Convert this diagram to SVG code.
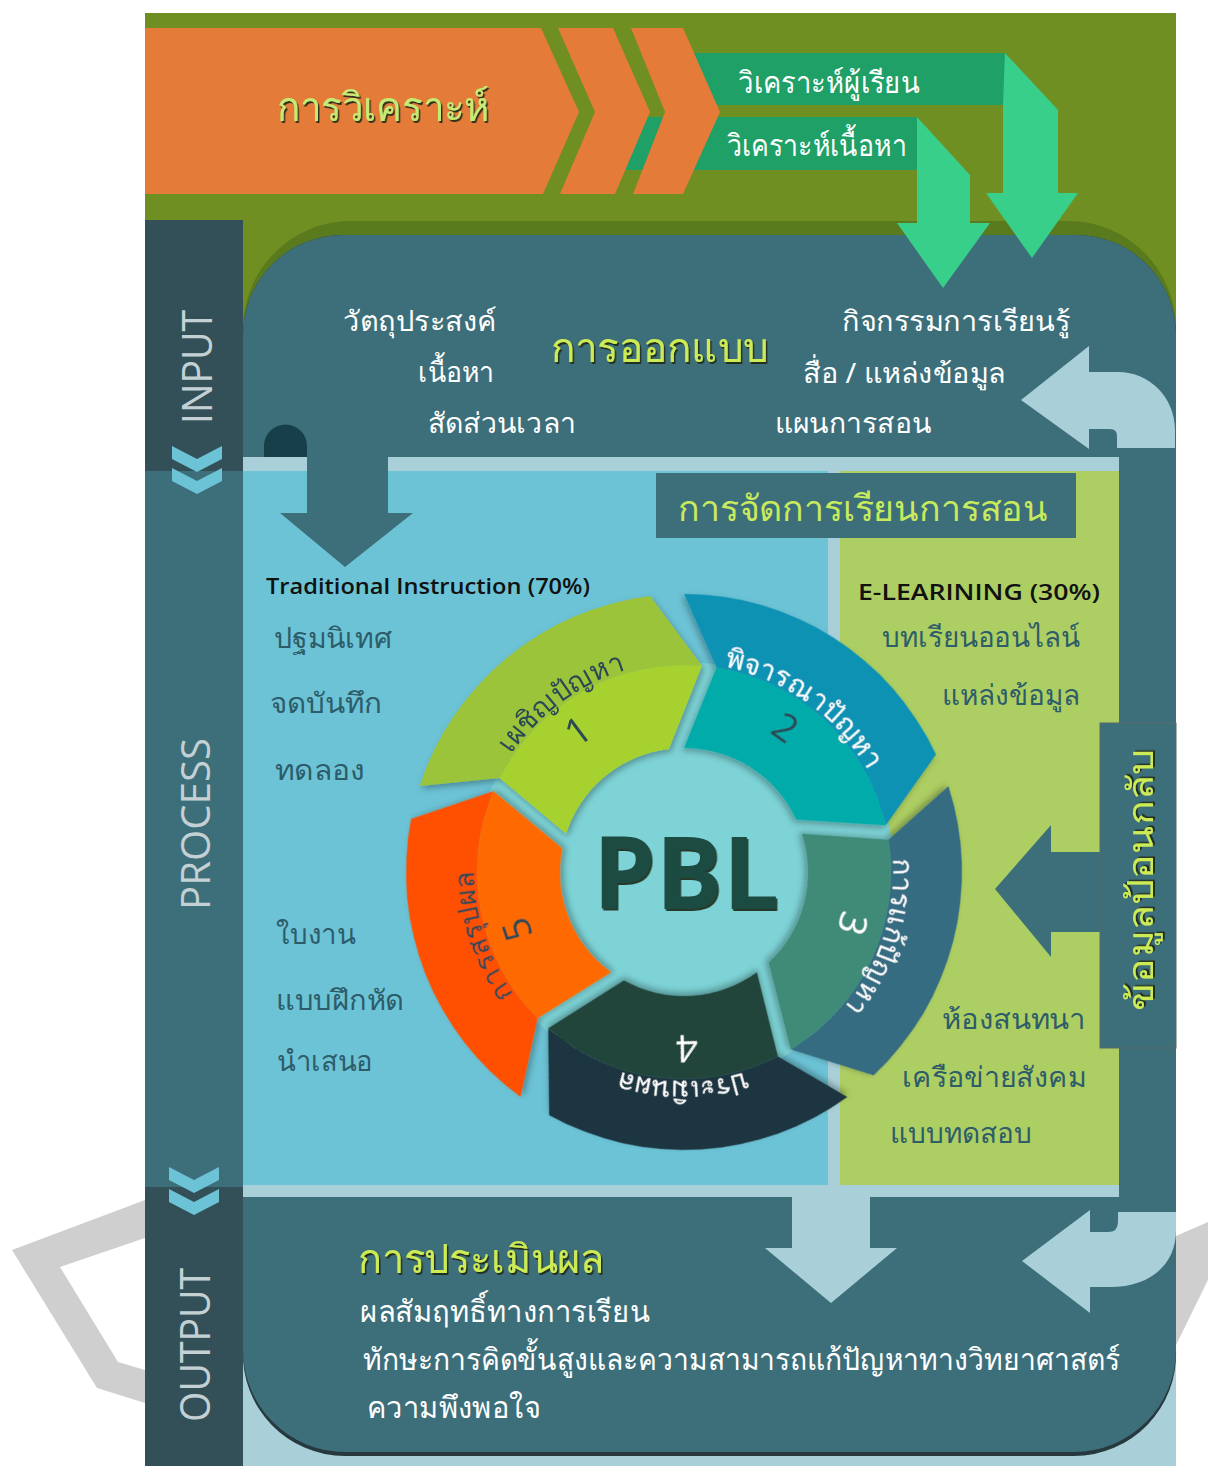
<svg xmlns="http://www.w3.org/2000/svg" xmlns:xlink="http://www.w3.org/1999/xlink" width="1208" height="1466" viewBox="0 0 1208 1466">
<style>
.th{font-family:"Noto Sans","DejaVu Sans",sans-serif;}
.lat{font-family:"Open Sans","Liberation Sans",sans-serif;}
.w{fill:#ffffff;}
.dk{fill:#2d5c6a;}
.lime{fill:#cdeb55;}
.side{fill:#c3d1d5;font-family:"Open Sans","Liberation Sans",sans-serif;}
.seglab{font-size:28px;}
.num{font-family:"Open Sans","Liberation Sans",sans-serif;font-size:38px;}
</style>
<defs>
<filter id="ts" x="-5%" y="-20%" width="110%" height="150%"><feDropShadow dx="1.5" dy="2" stdDeviation="0.6" flood-color="#1d2b12" flood-opacity="0.9"/></filter>
<filter id="ss" x="-15%" y="-15%" width="135%" height="135%"><feDropShadow dx="2" dy="3" stdDeviation="3" flood-color="#000000" flood-opacity="0.3"/></filter>
<path id="chev" d="M0,0 L25,13 L50,0 L50,13 L25,26 L0,13 Z"/>
<path id="segO" d="M419.6,786.1 A278,278 0 0 1 650.1,596.1 L702.0,665.8 A207,207 0 0 0 499.6,778.0 Z"/>
<path id="segI" d="M499.6,778.0 A207,207 0 0 1 702.0,665.8 L668.9,748.9 A124,124 0 0 0 566.1,833.7 Z"/>
<path id="arc" d="M485.7,806.6 A210,210 0 0 1 684,662" fill="none"/>
</defs>

<!-- background grey shapes -->
<g id="bg-shape">
<path d="M145,1200 L12,1250 L97,1388 L145,1403 L145,1370 L118,1362 L60,1267 L145,1238 Z" fill="#cfcfcf"/>
<path d="M1176,1236 L1208,1222 L1208,1280 L1176,1345 Z" fill="#cfcfcf"/>
</g>

<!-- analysis band -->
<g id="analysis">
<rect x="145" y="13" width="1031" height="420" fill="#6f8f22"/>
<rect x="620" y="117" width="297" height="53" fill="#1ea066"/>
<rect x="690" y="53" width="315" height="52" fill="#1ea066"/>
<path d="M145,28 L541,28 L579,112 L543,194 L145,194 Z" fill="#e57b39"/>
<path d="M558,28 L613,28 L650,112 L615,194 L560,194 L595,112 Z" fill="#e57b39"/>
<path d="M631,28 L683,28 L720,112 L683,194 L633,194 L665,112 Z" fill="#e57b39"/>
<text class="th" x="383" y="121" font-size="40" text-anchor="middle" fill="#c4ec74" filter="url(#ts)" textLength="212" lengthAdjust="spacingAndGlyphs">การวิเคราะห์</text>
</g>

<g id="learner">
<text class="th w" x="738" y="93" font-size="30" textLength="182" lengthAdjust="spacingAndGlyphs">วิเคราะห์ผู้เรียน</text>
</g>
<g id="content">
<text class="th w" x="727" y="156" font-size="30" textLength="180" lengthAdjust="spacingAndGlyphs">วิเคราะห์เนื้อหา</text>
</g>

<!-- main panel -->
<g id="panel">
<rect x="243" y="221" width="933" height="400" rx="108" fill="#5a7a1e"/>
<rect x="243" y="1300" width="933" height="166" fill="#a9d0d9"/>
<path d="M343,235 L1076,235 A100,100 0 0 1 1176,335 L1176,1350 A102,102 0 0 1 1074,1456 L345,1456 A102,102 0 0 1 243,1350 L243,335 A100,100 0 0 1 343,235 Z" fill="#27393e"/>
<path d="M343,235 L1076,235 A100,100 0 0 1 1176,335 L1176,1350 A102,102 0 0 1 1074,1452 L345,1452 A102,102 0 0 1 243,1350 L243,335 A100,100 0 0 1 343,235 Z" fill="#3d6f7a"/>
</g>

<!-- left column -->
<g id="input">
<rect x="145" y="220" width="98" height="251" fill="#334f57"/>
<text class="side" transform="translate(212,367) rotate(-90)" font-size="42" text-anchor="middle" textLength="114" lengthAdjust="spacingAndGlyphs">INPUT</text>
</g>
<g id="process">
<rect x="145" y="471" width="98" height="716" fill="#3d6f7a"/>
<text class="side" transform="translate(210,824) rotate(-90)" font-size="40" text-anchor="middle" textLength="172" lengthAdjust="spacingAndGlyphs">PROCESS</text>
</g>
<g id="output">
<rect x="145" y="1187" width="98" height="279" fill="#334f57"/>
<text class="side" transform="translate(210,1345) rotate(-90)" font-size="42" text-anchor="middle" textLength="154" lengthAdjust="spacingAndGlyphs">OUTPUT</text>
</g>
<g id="chevrons" fill="#6cc3d6">
<use href="#chev" x="172" y="446"/>
<use href="#chev" x="172" y="468"/>
<use href="#chev" x="169" y="1167"/>
<use href="#chev" x="169" y="1189"/>
</g>

<!-- design -->
<g id="design">
<text class="th w" x="343" y="331" font-size="28" textLength="154" lengthAdjust="spacingAndGlyphs">วัตถุประสงค์</text>
<text class="th w" x="418" y="382" font-size="28" textLength="76" lengthAdjust="spacingAndGlyphs">เนื้อหา</text>
<text class="th w" x="428" y="433" font-size="28" textLength="148" lengthAdjust="spacingAndGlyphs">สัดส่วนเวลา</text>
<text class="th lime" x="551" y="362" font-size="40" filter="url(#ts)" textLength="217" lengthAdjust="spacingAndGlyphs">การออกแบบ</text>
<text class="th w" x="842" y="331" font-size="28" textLength="228" lengthAdjust="spacingAndGlyphs">กิจกรรมการเรียนรู้</text>
<text class="th w" x="803" y="383" font-size="28" textLength="203" lengthAdjust="spacingAndGlyphs">สื่อ / แหล่งข้อมูล</text>
<text class="th w" x="775" y="433" font-size="28" textLength="156" lengthAdjust="spacingAndGlyphs">แผนการสอน</text>
</g>

<!-- process areas -->
<g id="process-area">
<rect x="243" y="457" width="876" height="14" fill="#a9d0d9"/>
<rect x="243" y="471" width="585" height="714" fill="#6cc3d6"/>
<rect x="828" y="471" width="12" height="714" fill="#a9d0d9"/>
<rect x="840" y="471" width="279" height="714" fill="#adce62"/>
<rect x="243" y="1185" width="876" height="12" fill="#a9d0d9"/>
</g>

<g id="manage">
<rect x="656" y="473" width="420" height="65" fill="#3d6f7a"/>
<text class="th" x="678" y="521" font-size="36" fill="#c8ea5c" textLength="370" lengthAdjust="spacingAndGlyphs">การจัดการเรียนการสอน</text>
</g>

<g id="traditional">
<text class="lat" x="266" y="594" font-size="22" font-weight="600" fill="#111" textLength="324" lengthAdjust="spacingAndGlyphs">Traditional Instruction (70%)</text>
<text class="th dk" x="274" y="648" font-size="28" textLength="118" lengthAdjust="spacingAndGlyphs">ปฐมนิเทศ</text>
<text class="th dk" x="270" y="713" font-size="28" textLength="112" lengthAdjust="spacingAndGlyphs">จดบันทึก</text>
<text class="th dk" x="275" y="780" font-size="28" textLength="90" lengthAdjust="spacingAndGlyphs">ทดลอง</text>
<text class="th dk" x="276" y="944" font-size="28" textLength="80" lengthAdjust="spacingAndGlyphs">ใบงาน</text>
<text class="th dk" x="276" y="1010" font-size="28" textLength="128" lengthAdjust="spacingAndGlyphs">แบบฝึกหัด</text>
<text class="th dk" x="277" y="1071" font-size="28" textLength="96" lengthAdjust="spacingAndGlyphs">นำเสนอ</text>
</g>

<g id="elearning">
<text class="lat" x="858" y="600" font-size="22" font-weight="600" fill="#111" textLength="242" lengthAdjust="spacingAndGlyphs">E-LEARINING (30%)</text>
<text class="th dk" x="882" y="647" font-size="28" textLength="198" lengthAdjust="spacingAndGlyphs">บทเรียนออนไลน์</text>
<text class="th dk" x="942" y="705" font-size="28" textLength="138" lengthAdjust="spacingAndGlyphs">แหล่งข้อมูล</text>
<text class="th dk" x="942" y="1029" font-size="28" textLength="144" lengthAdjust="spacingAndGlyphs">ห้องสนทนา</text>
<text class="th dk" x="902" y="1087" font-size="28" textLength="184" lengthAdjust="spacingAndGlyphs">เครือข่ายสังคม</text>
<text class="th dk" x="890" y="1143" font-size="28" textLength="142" lengthAdjust="spacingAndGlyphs">แบบทดสอบ</text>
</g>

<g id="feedback">
<rect x="1100" y="723" width="76" height="325" fill="#3d6f7a" stroke="#5b6b6b" stroke-width="1"/>
<text class="th lime" transform="translate(1153,880) rotate(-90)" font-size="36" text-anchor="middle" filter="url(#ts)" textLength="262" lengthAdjust="spacingAndGlyphs">ข้อมูลป้อนกลับ</text>
</g>

<!-- PBL wheel -->
<g id="pbl">
<circle cx="684" cy="872" r="210" fill="#7dd3d6"/>
<text x="686" y="909" font-family="Open Sans, Liberation Sans, sans-serif" font-weight="700" font-size="100" text-anchor="middle" fill="#1f4b43" filter="url(#ts)">PBL</text>
</g>
<g id="step1" filter="url(#ss)">
<use href="#segO" fill="#9cc43a"/><use href="#segI" fill="#a6d12e"/>
<text class="th seglab" fill="#2b4a55"><textPath href="#arc" startOffset="50%" text-anchor="middle">เผชิญปัญหา</textPath></text>
<text class="num" x="576.9" y="729.8" fill="#2b4a55" text-anchor="middle" dominant-baseline="central" transform="rotate(-37 576.9 729.8)">1</text>
</g>
<g id="step2" filter="url(#ss)" transform="rotate(72 684 872)">
<use href="#segO" fill="#0a92b4"/><use href="#segI" fill="#03aba9"/>
<text class="th seglab w"><textPath href="#arc" startOffset="50%" text-anchor="middle">พิจารณาปัญหา</textPath></text>
<text class="num" x="576.9" y="729.8" fill="#2b4a55" text-anchor="middle" dominant-baseline="central" transform="rotate(-37 576.9 729.8)">2</text>
</g>
<g id="step3" filter="url(#ss)" transform="rotate(144 684 872)">
<use href="#segO" fill="#366c82"/><use href="#segI" fill="#3f8b78"/>
<text class="th seglab w"><textPath href="#arc" startOffset="50%" text-anchor="middle">การแก้ปัญหา</textPath></text>
<text class="num w" x="576.9" y="729.8" text-anchor="middle" dominant-baseline="central" transform="rotate(-37 576.9 729.8)">3</text>
</g>
<g id="step4" filter="url(#ss)" transform="rotate(216 684 872)">
<use href="#segO" fill="#1c3641"/><use href="#segI" fill="#20453a"/>
<text class="th seglab w"><textPath href="#arc" startOffset="50%" text-anchor="middle">ประเมินผล</textPath></text>
<text class="num w" x="576.9" y="729.8" text-anchor="middle" dominant-baseline="central" transform="rotate(-37 576.9 729.8)">4</text>
</g>
<g id="step5" filter="url(#ss)" transform="rotate(288 684 872)">
<use href="#segO" fill="#ff5000"/><use href="#segI" fill="#ff6a00"/>
<text class="th seglab" fill="#2b4a55"><textPath href="#arc" startOffset="50%" text-anchor="middle">การสรุปผล</textPath></text>
<text class="num" x="576.9" y="729.8" fill="#2b4a55" text-anchor="middle" dominant-baseline="central" transform="rotate(-37 576.9 729.8)">5</text>
</g>

<!-- evaluation -->
<g id="evaluation">
<text class="th lime" x="358" y="1273" font-size="40" filter="url(#ts)" textLength="247" lengthAdjust="spacingAndGlyphs">การประเมินผล</text>
<text class="th w" x="360" y="1322" font-size="30" textLength="290" lengthAdjust="spacingAndGlyphs">ผลสัมฤทธิ์ทางการเรียน</text>
<text class="th w" x="363" y="1370" font-size="30" textLength="757" lengthAdjust="spacingAndGlyphs">ทักษะการคิดขั้นสูงและความสามารถแก้ปัญหาทางวิทยาศาสตร์</text>
<text class="th w" x="367" y="1418" font-size="30" textLength="174" lengthAdjust="spacingAndGlyphs">ความพึงพอใจ</text>
</g>

<!-- connectors -->
<g id="connectors">
<path d="M1005,53 L1058,110 L1058,193 L1078,193 L1032,258 L986,193 L1003,193 L1003,105 Z" fill="#38cf8b"/>
<path d="M917,117 L970,175 L970,223 L990,223 L943,288 L897,223 L917,223 L917,170 Z" fill="#38cf8b"/>
<path d="M264,457 L264,446 A21.5,21.5 0 0 1 307,446 L307,457 Z" fill="#173f4a"/>
<path d="M307,455 L388,455 L388,513 L413,513 L345,567 L280,513 L307,513 Z" fill="#3d6f7a"/>
<path d="M1021,400 L1089,346 L1089,372 L1118,372 C1150,372 1175,398 1175,430 L1175,448 L1117,448 L1117,436 Q1117,429 1110,429 L1089,429 L1089,449 Z" fill="#a9d0d9"/>
<path d="M1100,852 L1051,852 L1051,825 L995,889 L1051,957 L1051,932 L1100,932 Z" fill="#3d6f7a"/>
<path d="M792,1197 L870,1197 L870,1248 L897,1248 L831,1303 L765,1248 L792,1248 Z" fill="#a9d0d9"/>
<path d="M1022,1261 L1090,1210 L1090,1232 L1108,1232 Q1118,1232 1118,1222 L1118,1212 L1176,1212 L1176,1230 C1176,1265 1150,1287 1110,1287 L1090,1287 L1090,1313 Z" fill="#a9d0d9"/>
</g>
</svg>
